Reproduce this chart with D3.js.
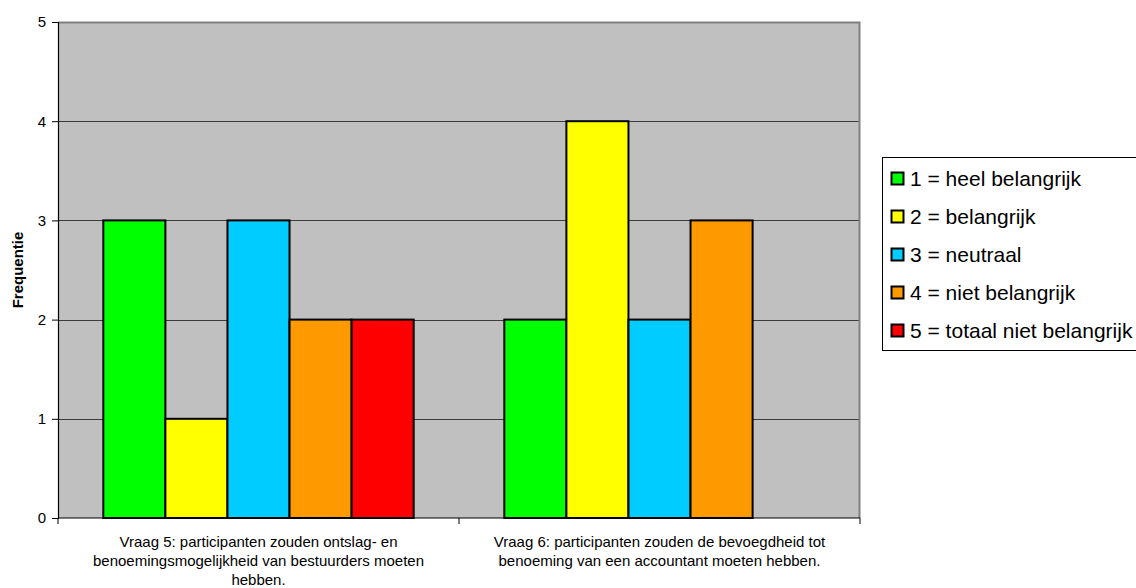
<!DOCTYPE html>
<html>
<head>
<meta charset="utf-8">
<script src="https://cdn.jsdelivr.net/npm/d3@7"></script>
<style>
  body { margin: 0; background: #fff; }
  svg { display: block; font-family: Arial, "Liberation Sans", sans-serif; }
</style>
</head>
<body>
<svg id="chart" width="1136" height="588"></svg>
<script>
// Questions (x categories), wrapped onto lines
const categories = ["Vraag 5", "Vraag 6"];
const categoryLines = [
  ["Vraag 5: participanten zouden ontslag- en", "benoemingsmogelijkheid van bestuurders moeten", "hebben."],
  ["Vraag 6: participanten zouden de bevoegdheid tot", "benoeming van een accountant moeten hebben."]
];
// Answer scale (series)
const seriesNames = ["1 = heel belangrijk", "2 = belangrijk", "3 = neutraal", "4 = niet belangrijk", "5 = totaal niet belangrijk"];
const seriesColors = ["#00ff00", "#ffff00", "#00ccff", "#ff9900", "#ff0000"];
// Frequencies per series, one value per question
const heelBelangrijk = [3, 2];
const belangrijk = [1, 4];
const neutraal = [3, 2];
const nietBelangrijk = [2, 3];
const totaalNietBelangrijk = [2, 0];
const yTicks = [0, 1, 2, 3, 4, 5];

const seriesValues = [heelBelangrijk, belangrijk, neutraal, nietBelangrijk, totaalNietBelangrijk];

const svg = d3.select("#chart");
const plot = { left: 58, top: 22, right: 860, bottom: 518 };

const x0 = d3.scaleBand().domain(categories).range([plot.left, plot.right]).paddingInner(0).paddingOuter(0);
const x1 = d3.scaleBand().domain(d3.range(seriesNames.length))
  .range([0, x0.bandwidth()]).paddingOuter(0.73).paddingInner(0);
const y = d3.scaleLinear().domain([0, 5]).range([plot.bottom, plot.top]);

// plot background
svg.append("rect")
  .attr("x", plot.left).attr("y", plot.top)
  .attr("width", plot.right - plot.left).attr("height", plot.bottom - plot.top)
  .attr("fill", "#c0c0c0");

// gridlines
svg.append("g").selectAll("line")
  .data(yTicks.filter(d => d > 0 && d < 5))
  .join("line")
  .attr("x1", plot.left).attr("x2", plot.right)
  .attr("y1", d => Math.round(y(d)) + 0.5).attr("y2", d => Math.round(y(d)) + 0.5)
  .attr("stroke", "#3c3c3c").attr("stroke-width", 1);

// top and right frame
svg.append("path")
  .attr("d", `M${plot.left},${plot.top + 0.5}H${plot.right - 0.5}V${plot.bottom}`)
  .attr("fill", "none").attr("stroke", "#808080").attr("stroke-width", 2);

// bars
const groups = svg.append("g").selectAll("g")
  .data(categories)
  .join("g")
  .attr("transform", d => `translate(${x0(d)},0)`);

groups.selectAll("rect")
  .data((c, ci) => seriesValues.map((vals, si) => ({ si, v: vals[ci] })).filter(d => d.v > 0))
  .join("rect")
  .attr("x", d => x1(d.si))
  .attr("y", d => y(d.v))
  .attr("width", x1.bandwidth())
  .attr("height", d => y(0) - y(d.v))
  .attr("fill", d => seriesColors[d.si])
  .attr("stroke", "#000")
  .attr("stroke-width", 2);

// y axis
const yAxis = d3.axisLeft(y).tickValues(yTicks).tickSize(6).tickPadding(6).tickFormat(d3.format("d"));
const gy = svg.append("g").attr("transform", `translate(${plot.left},0)`).call(yAxis);
gy.select(".domain").attr("stroke", "#000").attr("stroke-width", 1.2);
gy.selectAll("text").attr("font-size", 15).attr("fill", "#000").attr("font-family", "Arial, 'Liberation Sans', sans-serif");

// x axis with ticks at category boundaries
const gx = svg.append("g").attr("transform", `translate(0,${plot.bottom})`);
gx.append("line").attr("x1", plot.left).attr("x2", plot.right).attr("stroke", "#000").attr("stroke-width", 1.2);
const boundaries = categories.map(c => x0(c)).concat([x0(categories[categories.length - 1]) + x0.bandwidth()]);
gx.selectAll("line.tick").data(boundaries).join("line")
  .attr("class", "tick")
  .attr("x1", d => d).attr("x2", d => d).attr("y1", 0).attr("y2", 6)
  .attr("stroke", "#000");

// category labels
categories.forEach((c, i) => {
  const cx = x0(c) + x0.bandwidth() / 2;
  const t = svg.append("text")
    .attr("text-anchor", "middle").attr("font-size", 15).attr("fill", "#000");
  categoryLines[i].forEach((line, li) => {
    t.append("tspan").attr("x", cx).attr("y", 547 + li * 19).text(line);
  });
});

// y axis title
svg.append("text")
  .attr("transform", "translate(23,270) rotate(-90)")
  .attr("text-anchor", "middle")
  .attr("font-size", 15).attr("font-weight", "bold")
  .text("Frequentie");

// legend
const legend = svg.append("g");
legend.append("rect")
  .attr("x", 882.5).attr("y", 157.5).attr("width", 270).attr("height", 193)
  .attr("fill", "#fff").attr("stroke", "#000").attr("stroke-width", 1);
const items = legend.selectAll("g.item").data(seriesNames).join("g")
  .attr("class", "item")
  .attr("transform", (d, i) => `translate(891,${186 + i * 38})`);
items.append("rect")
  .attr("x", 0.5).attr("y", -13.5).attr("width", 12).attr("height", 12)
  .attr("fill", (d, i) => seriesColors[i]).attr("stroke", "#000").attr("stroke-width", 2);
items.append("text")
  .attr("x", 19).attr("y", 0).attr("font-size", 21).attr("fill", "#000")
  .text(d => d);
</script>
</body>
</html>
